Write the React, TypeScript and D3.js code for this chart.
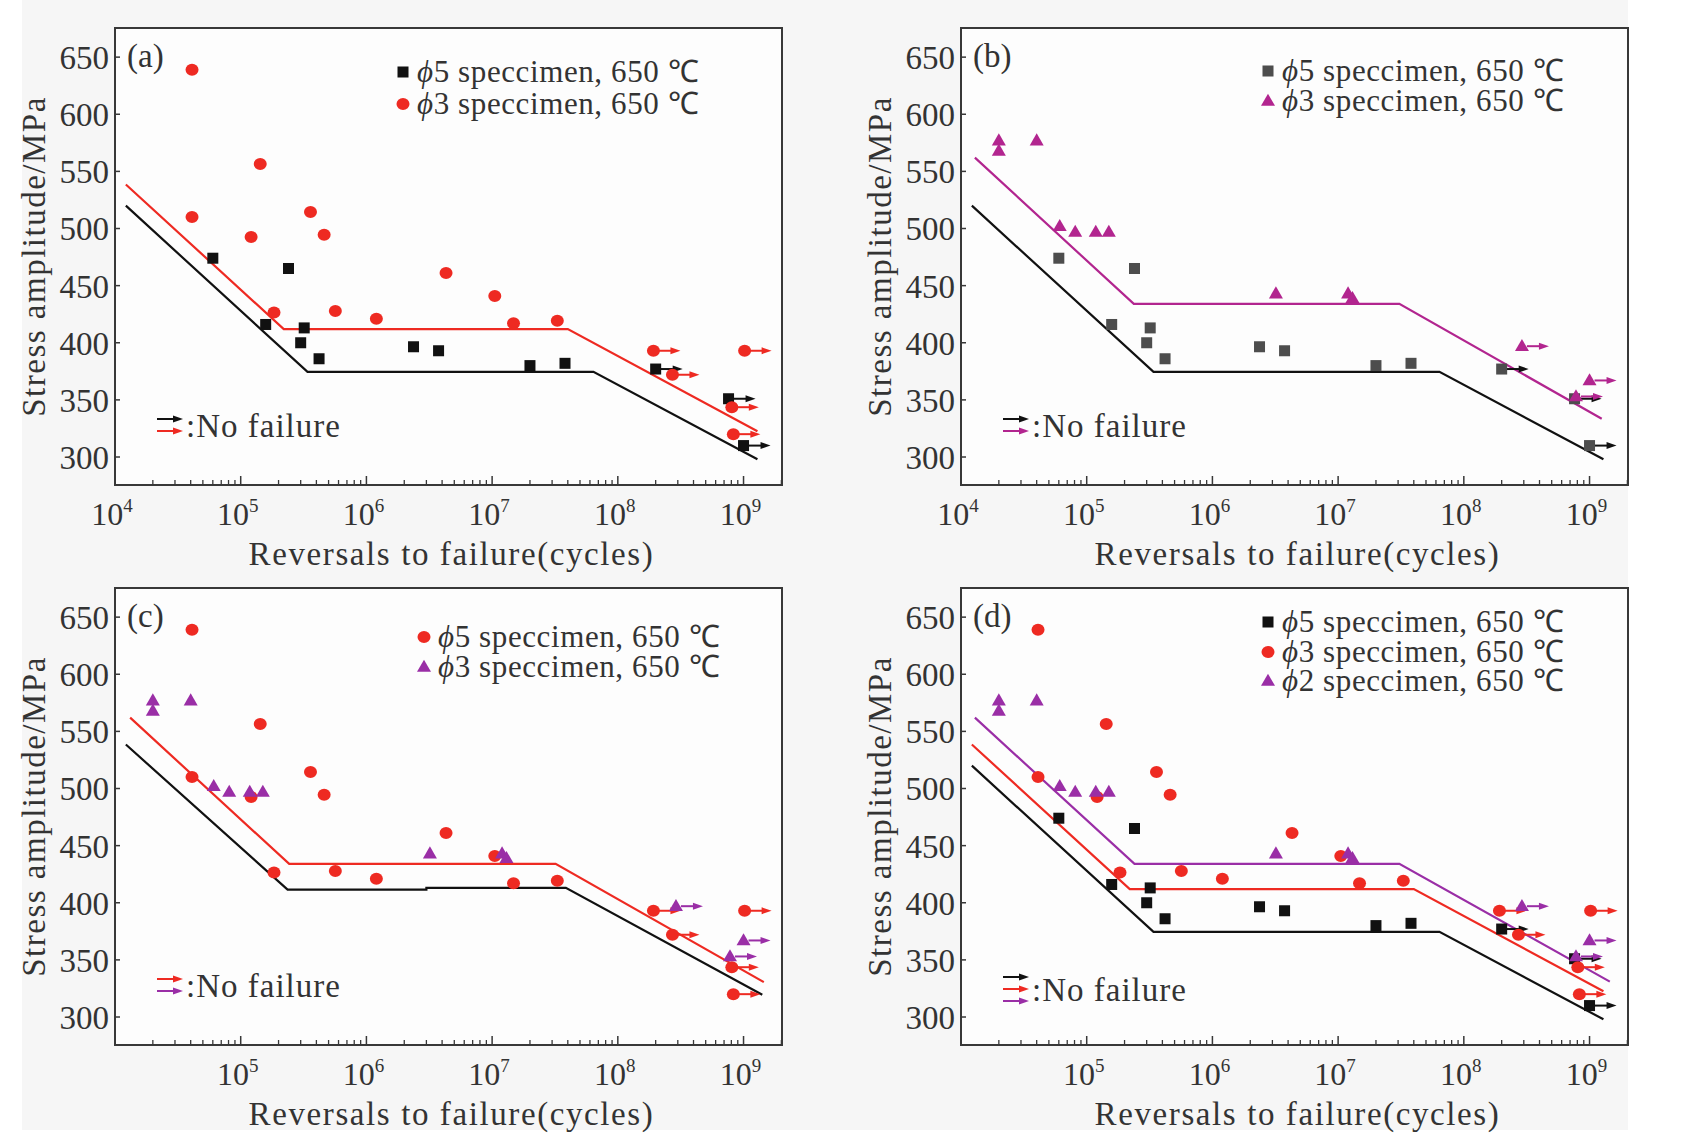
import React from 'react';
import * as d3 from 'd3';

// ---------- data ----------
// phi5 specimen (squares)
const PHI5_N = [6.0e4, 1.58e5, 2.4e5, 3.2e5, 3.0e5, 4.2e5, 2.37e6, 3.75e6, 2.0e7, 3.8e7, 2.0e8, 7.6e8, 1.0e9];
const PHI5_S = [474, 416, 465, 413, 400, 386, 396.5, 393, 380, 382, 377, 351, 310];
const PHI5_NF = [false, false, false, false, false, false, false, false, false, false, true, true, true];

// phi3 specimen (circles)
const PHI3_N = [4.1e4, 4.1e4, 1.21e5, 1.43e5, 1.84e5, 3.59e5, 4.61e5, 5.66e5, 1.2e6, 4.3e6, 1.05e7, 1.48e7, 3.3e7, 1.92e8, 2.72e8, 8.07e8, 8.3e8, 1.02e9];
const PHI3_S = [639, 510, 492.6, 556.5, 426.5, 514.4, 494.5, 427.7, 421, 461, 441, 417, 419.3, 393, 372, 343.6, 320, 393];
const PHI3_NF = [false, false, false, false, false, false, false, false, false, false, false, false, false, true, true, true, true, true];

// small specimen (triangles)
const TRI_N = [2.0e4, 2.0e4, 4.0e4, 6.1e4, 8.1e4, 1.18e5, 1.5e5, 3.2e6, 1.2e7, 1.3e7, 2.9e8, 7.8e8, 1.0e9];
const TRI_S = [577, 568, 577, 502, 497, 497, 497, 443, 443, 439, 397, 353, 367];
const TRI_NF = [false, false, false, false, false, false, false, false, false, false, true, true, true];

// fitted curves
const LINE_BLACK_N = [1.22e4, 3.4e5, 6.4e7, 1.29e9];
const LINE_BLACK_S = [520, 374.5, 374.5, 298];
const LINE_RED_N = [1.22e4, 2.2e5, 4.0e7, 1.29e9];
const LINE_RED_S = [538.5, 412, 412, 322.5];
const LINE_B_MAG_N = [1.29e4, 2.37e5, 3.07e7, 1.25e9];
const LINE_B_MAG_S = [562, 434, 434, 333.5];
const LINE_C_BLACK_N = [1.22e4, 2.36e5, 3.0e6, 3.0e6, 3.86e7, 1.41e9];
const LINE_C_BLACK_S = [538.5, 411.5, 411.5, 413, 413, 319.5];
const LINE_C_RED_N = [1.32e4, 2.43e5, 3.2e7, 1.45e9];
const LINE_C_RED_S = [562, 434, 434, 330.5];
const LINE_D_PUR_N = [1.29e4, 2.4e5, 3.07e7, 1.45e9];
const LINE_D_PUR_S = [562, 434, 434, 331];

const Y_TICKS = [300, 350, 400, 450, 500, 550, 600, 650];
const X_DECADES = [4, 5, 6, 7, 8, 9];

// ---------- colours ----------
const BLACK = '#111111';
const GRAY = '#4d4d4d';
const RED = '#ee2a22';
const MAGENTA = '#b2258f';
const PURPLE = '#9a2ea6';

const FONT = '"Liberation Serif", "Times New Roman", serif';

const W = 667;
const H = 457;

type Series = { n: number[]; s: number[]; nf: boolean[]; shape: 'square' | 'circle' | 'triangle'; color: string; arrow: string };
type Line = { n: number[]; s: number[]; color: string };
type LegendItem = { shape: 'square' | 'circle' | 'triangle'; color: string; phi: string };

function Marker({ shape, x, y, color }: { shape: string; x: number; y: number; color: string }) {
  if (shape === 'square') return <rect x={x - 5.5} y={y - 5.5} width={11} height={11} fill={color} />;
  if (shape === 'circle') return <ellipse cx={x} cy={y} rx={6.5} ry={6} fill={color} />;
  const s = 14;
  const h = s * 0.87;
  return <polygon points={`${x},${y - h * 0.6} ${x - s / 2},${y + h * 0.4} ${x + s / 2},${y + h * 0.4}`} fill={color} />;
}

function Arrow({ x1, x2, y, color }: { x1: number; x2: number; y: number; color: string }) {
  return (
    <g>
      <line x1={x1} x2={x2 - 6} y1={y} y2={y} stroke={color} strokeWidth={2} />
      <polygon points={`${x2},${y} ${x2 - 10},${y - 3.5} ${x2 - 10},${y + 3.5}`} fill={color} />
    </g>
  );
}

function Panel({ left, top, label, series, lines, legend, nfColors, showFirstDecade, legendDx, legendRows, nfY }: {
  left: number; top: number; label: string; series: Series[]; lines: Line[]; legend: LegendItem[]; nfColors: string[];
  showFirstDecade: boolean; legendDx: number; legendRows: number[]; nfY: number;
}) {
  const x = d3.scaleLog().domain([1e4, Math.pow(10, 9.306)]).range([0, W]);
  const y = d3.scaleLinear().domain([275.5, 675.5]).range([H, 0]);
  const lineGen = d3.line<[number, number]>().x((d) => x(d[0])).y((d) => y(d[1]));

  const minor: number[] = [];
  X_DECADES.forEach((d) => {
    for (let k = 2; k <= 9; k++) {
      const v = k * Math.pow(10, d);
      if (v < Math.pow(10, 9.306)) minor.push(v);
    }
  });

  return (
    <g transform={`translate(${left},${top})`} fontFamily={FONT}>
      <rect x={0} y={0} width={W} height={H} fill="#fdfdfd" stroke="#383838" strokeWidth={2} />
      {/* y ticks */}
      {Y_TICKS.map((t) => (
        <g key={t}>
          <line x1={0} x2={5} y1={y(t)} y2={y(t)} stroke="#383838" strokeWidth={1.5} />
          <text x={-6} y={y(t)} dy="0.36em" textAnchor="end" fontSize={33} fill="#333">{t}</text>
        </g>
      ))}
      {/* x ticks */}
      {minor.map((v) => (
        <line key={v} x1={x(v)} x2={x(v)} y1={H} y2={H - 5} stroke="#383838" strokeWidth={1.3} />
      ))}
      {X_DECADES.map((d) => (
        <line key={'M' + d} x1={x(Math.pow(10, d))} x2={x(Math.pow(10, d))} y1={H} y2={H - 9} stroke="#383838" strokeWidth={1.5} />
      ))}
      {X_DECADES.filter((d) => showFirstDecade || d > 4).map((d) => (
        <text key={'L' + d} x={x(Math.pow(10, d)) - 3} y={H + 40} textAnchor="middle" fontSize={32} fill="#333">
          10<tspan dy={-13} fontSize={19}>{d}</tspan>
        </text>
      ))}
      {/* axis titles */}
      <text x={W / 2 + 3} y={H + 80} textAnchor="middle" fontSize={33} letterSpacing={1.6} fill="#333">
        Reversals to failure(cycles)
      </text>
      <text transform={`translate(${-70},${H / 2}) rotate(-90)`} textAnchor="middle" fontSize={33} letterSpacing={1.5} fill="#333">
        Stress amplitude/MPa
      </text>
      {/* panel label */}
      <text x={12} y={39} fontSize={33} fill="#333">{label}</text>
      {/* lines */}
      {lines.map((l, i) => (
        <path key={i} d={lineGen(l.n.map((v, j) => [v, l.s[j]] as [number, number])) || ''} fill="none" stroke={l.color} strokeWidth={2.2} />
      ))}
      {/* series */}
      {series.map((s, i) => (
        <g key={i}>
          {s.n.map((v, j) => (
            <g key={j}>
              {s.nf[j] && <Arrow x1={x(v) + 5} x2={x(v) + 27} y={y(s.s[j])} color={s.arrow} />}
              <Marker shape={s.shape} x={x(v)} y={y(s.s[j])} color={s.color} />
            </g>
          ))}
        </g>
      ))}
      {/* legend */}
      {legend.map((it, i) => (
        <g key={i}>
          <Marker shape={it.shape} x={legendDx} y={legendRows[i]} color={it.color} />
          <text x={legendDx + 14} y={legendRows[i]} dy="0.33em" fontSize={31} letterSpacing={0.6} fill="#333">
            <tspan fontStyle="italic">ϕ</tspan>{it.phi} speccimen, 650 ℃
          </text>
        </g>
      ))}
      {/* no failure legend */}
      {nfColors.map((c, i) => (
        <Arrow key={i} x1={42} x2={68} y={nfY - (nfColors.length - 1) * 6 + i * 12} color={c} />
      ))}
      <text x={71} y={nfY} dy="0.35em" fontSize={33} letterSpacing={1} fill="#333">:No failure</text>
    </g>
  );
}

export default function App() {
  const sq: Series = { n: PHI5_N, s: PHI5_S, nf: PHI5_NF, shape: 'square', color: BLACK, arrow: BLACK };
  const sqGray: Series = { ...sq, color: GRAY };
  const circ: Series = { n: PHI3_N, s: PHI3_S, nf: PHI3_NF, shape: 'circle', color: RED, arrow: RED };
  const triMag: Series = { n: TRI_N, s: TRI_S, nf: TRI_NF, shape: 'triangle', color: MAGENTA, arrow: MAGENTA };
  const triPur: Series = { n: TRI_N, s: TRI_S, nf: TRI_NF, shape: 'triangle', color: PURPLE, arrow: PURPLE };

  return (
    <svg width={1686} height={1144} style={{ position: 'absolute', left: 0, top: 0 }}>
      <rect x={0} y={0} width={1686} height={1144} fill="#ffffff" />
      <rect x={22} y={0} width={1606} height={1130} fill="#f6f6f6" />
      <Panel left={115} top={28} label="(a)" showFirstDecade
        series={[sq, circ]}
        lines={[{ n: LINE_BLACK_N, s: LINE_BLACK_S, color: BLACK }, { n: LINE_RED_N, s: LINE_RED_S, color: RED }]}
        legend={[{ shape: 'square', color: BLACK, phi: '5' }, { shape: 'circle', color: RED, phi: '3' }]}
        legendDx={288} legendRows={[44, 76]} nfColors={[BLACK, RED]} nfY={397} />
      <Panel left={961} top={28} label="(b)" showFirstDecade
        series={[sqGray, triMag]}
        lines={[{ n: LINE_BLACK_N, s: LINE_BLACK_S, color: BLACK }, { n: LINE_B_MAG_N, s: LINE_B_MAG_S, color: MAGENTA }]}
        legend={[{ shape: 'square', color: GRAY, phi: '5' }, { shape: 'triangle', color: MAGENTA, phi: '3' }]}
        legendDx={307} legendRows={[43, 73]} nfColors={[BLACK, MAGENTA]} nfY={397} />
      <Panel left={115} top={588} label="(c)" showFirstDecade={false}
        series={[circ, triPur]}
        lines={[{ n: LINE_C_BLACK_N, s: LINE_C_BLACK_S, color: BLACK }, { n: LINE_C_RED_N, s: LINE_C_RED_S, color: RED }]}
        legend={[{ shape: 'circle', color: RED, phi: '5' }, { shape: 'triangle', color: PURPLE, phi: '3' }]}
        legendDx={309} legendRows={[49, 79]} nfColors={[RED, PURPLE]} nfY={397} />
      <Panel left={961} top={588} label="(d)" showFirstDecade={false}
        series={[sq, circ, triPur]}
        lines={[{ n: LINE_BLACK_N, s: LINE_BLACK_S, color: BLACK }, { n: LINE_RED_N, s: LINE_RED_S, color: RED }, { n: LINE_D_PUR_N, s: LINE_D_PUR_S, color: PURPLE }]}
        legend={[{ shape: 'square', color: BLACK, phi: '5' }, { shape: 'circle', color: RED, phi: '3' }, { shape: 'triangle', color: PURPLE, phi: '2' }]}
        legendDx={307} legendRows={[34, 64, 93]} nfColors={[BLACK, RED, PURPLE]} nfY={401} />
    </svg>
  );
}
